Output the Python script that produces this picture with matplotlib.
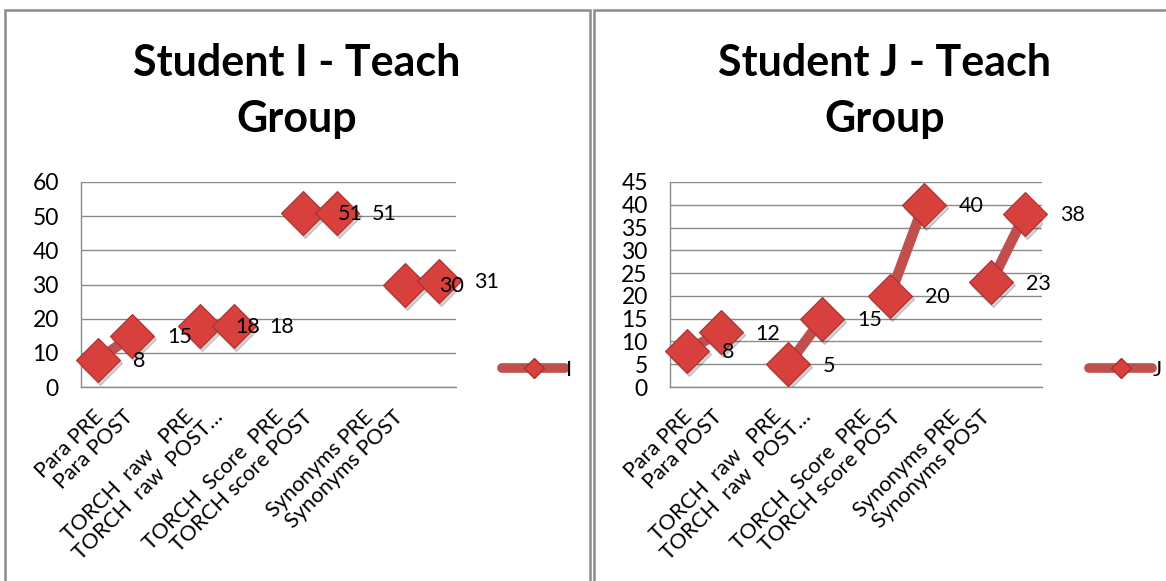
import numpy as np
import matplotlib
matplotlib.use("Agg")
import matplotlib.pyplot as plt
import matplotlib.transforms as mtransforms
from matplotlib.patches import Rectangle

plt.rcParams['font.family'] = ['Lato', 'DejaVu Sans']

# data (blank categories break the lines)
categories = ["Para PRE", "Para POST", "", "TORCH  raw   PRE", "TORCH  raw  POST…", "",
              "TORCH  Score  PRE", "TORCH score POST", "", "Synonyms PRE", "Synonyms POST"]
student_i = [8, 15, np.nan, 18, 18, np.nan, 51, 51, np.nan, 30, 31]
student_j = [8, 12, np.nan, 5, 15, np.nan, 20, 40, np.nan, 23, 38]

panels = [
    ("Student I - Teach\nGroup", "I", student_i, 60, 10),
    ("Student J - Teach\nGroup", "J", student_j, 45, 5),
]

W, H = 1166, 581
fig = plt.figure(figsize=(W / 100, H / 100), dpi=100)

def fx(px):
    return px / W

def fy(py):
    return 1 - py / H

# panel frames (pixel boxes of the two chart objects)
frames = [(5, 10, 590, 600), (594, 10, 1180, 600)]
for x0, y0, x1, y1 in frames:
    fig.add_artist(Rectangle((fx(x0), fy(y1)), fx(x1 - x0), fy(y0) - fy(y1),
                             transform=fig.transFigure, fill=False,
                             edgecolor='#8c8c8c', lw=1.8, clip_on=False))

axes_px = [(81, 182, 456, 387), (670, 182, 1042, 387)]
title_cx = [297, 885]
legend_px = [(495, 370), (1082, 370)]

red_line = '#C0504D'
red_face = '#D8403D'
red_edge = '#A8302D'
fs = 15.5

x = np.arange(len(categories))
label_pos = x * 0.88 - 0.15

for (title, name, vals, ymax, step), (x0, y0, x1, y1), cx, (lx, ly) in zip(
        panels, axes_px, title_cx, legend_px):
    ax = fig.add_axes([fx(x0), fy(y1), fx(x1 - x0), fy(y0) - fy(y1)])
    ax.set_xlim(-0.5, len(categories) - 0.5)
    ax.set_ylim(0, ymax)
    ax.set_yticks(np.arange(0, ymax + 1, step))
    ax.yaxis.grid(True, color='#8a8a8a', lw=1.0)
    ax.set_axisbelow(True)
    for s in ['top', 'right']:
        ax.spines[s].set_visible(False)
    for s in ['left', 'bottom']:
        ax.spines[s].set_color('#8a8a8a')
        ax.spines[s].set_linewidth(1.0)
    ax.tick_params(axis='y', length=0, pad=16, labelsize=16.5)
    ax.tick_params(axis='x', length=0, pad=14, labelsize=fs)

    shown = [i for i, c in enumerate(categories) if c]
    ax.set_xticks(label_pos[shown])
    ax.set_xticklabels([categories[i] for i in shown], rotation=45,
                       ha='right', va='top', rotation_mode='anchor')

    # soft shadow under the markers
    shadow = mtransforms.offset_copy(ax.transData, fig=fig, x=2, y=-3, units='dots')
    ax.plot(x, vals, linestyle='none', marker='D', markersize=22,
            color='#000000', alpha=0.16, transform=shadow, zorder=2)
    ax.plot(x, vals, color=red_line, lw=7.5, marker='D', markersize=22,
            markerfacecolor=red_face, markeredgecolor=red_edge,
            markeredgewidth=0.8, solid_capstyle='butt', zorder=3, label=name,
            clip_on=False)

    for xi, v in zip(x, vals):
        if np.isnan(v):
            continue
        ax.annotate(f"{int(v)}", (xi, v), xytext=(25, -1), textcoords='offset points',
                    ha='left', va='center', fontsize=fs, zorder=4)

    leg_handle = plt.Line2D([], [], color=red_line, lw=7, marker='D', markersize=10,
                            markerfacecolor=red_face, markeredgecolor=red_edge,
                            solid_capstyle='round')
    fig.legend([leg_handle], [name], loc='center left',
               bbox_to_anchor=(fx(lx - 12), fy(ly)), frameon=False,
               handlelength=2.9, handletextpad=0.05, fontsize=fs)

    fig.text(fx(cx), fy(91), title, ha='center', va='center', fontsize=31,
             fontweight='bold', linespacing=1.5)

fig.savefig('out.png', dpi=100)
